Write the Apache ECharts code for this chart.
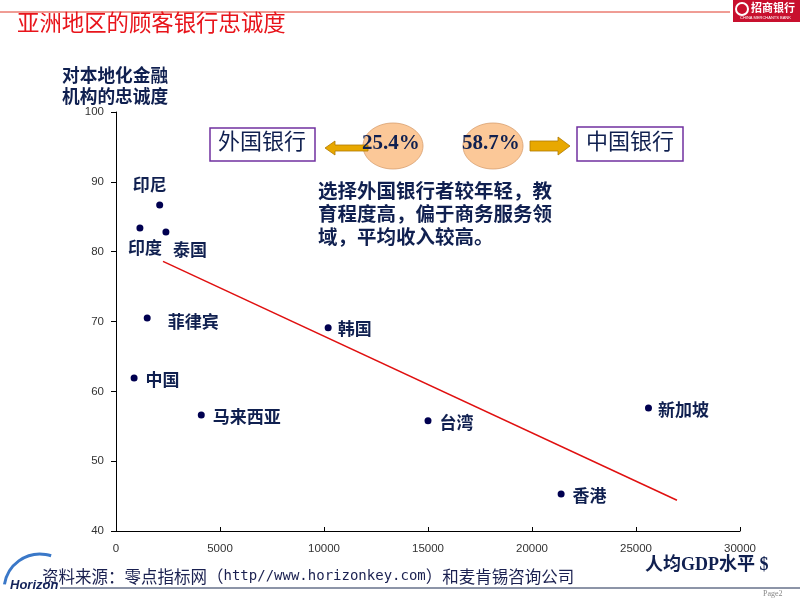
<!DOCTYPE html>
<html><head><meta charset="utf-8">
<script src="https://cdn.jsdelivr.net/npm/echarts@6/dist/echarts.min.js"></script>
<style>html,body{margin:0;padding:0;background:#fff}#c{width:800px;height:600px}</style>
</head><body><div id="c"></div>
<script>
// ---- data ----
var countries = ['印尼','印度','泰国','菲律宾','中国','马来西亚','韩国','台湾','香港','新加坡'];
var gdpPerCapita = [2100, 1150, 2400, 1500, 870, 4100, 10200, 15000, 21400, 25600];
var loyalty = [86.7, 83.4, 82.8, 70.5, 61.9, 56.6, 69.1, 55.8, 45.3, 57.6];
var trendX = [2260, 26970];
var trendY = [78.6, 44.4];
var xTicks = [0, 5000, 10000, 15000, 20000, 25000, 30000];
var yTicks = [40, 50, 60, 70, 80, 90, 100];
var foreignShare = '25.4%';
var domesticShare = '58.7%';

// ---- label placement (style, not data) ----
var labelPlace = {
  '印尼': {position: 'top', distance: 8, offset: [-10, 0]},
  '印度': {position: 'bottom', distance: 8, offset: [5, 0]},
  '泰国': {position: 'bottom', distance: 5, offset: [24, 0]},
  '菲律宾': {position: 'right', distance: 17, offset: [0, 4]},
  '中国': {position: 'right', distance: 8, offset: [0, 1]},
  '马来西亚': {position: 'right', distance: 8, offset: [0, 1]},
  '韩国': {position: 'right', distance: 6, offset: [0, 1]},
  '台湾': {position: 'right', distance: 8, offset: [0, 2]},
  '香港': {position: 'right', distance: 8, offset: [0, 2]},
  '新加坡': {position: 'right', distance: 6, offset: [0, 1]}
};

var navy = '#102050';
var cjk = '"Noto Sans CJK SC", "Noto Sans", sans-serif';
var tickFont = '"Liberation Sans", Arial, sans-serif';

var scatterData = countries.map(function (n, i) {
  var lp = labelPlace[n];
  return {
    name: n,
    value: [gdpPerCapita[i], loyalty[i]],
    label: {show: true, formatter: n, position: lp.position, distance: lp.distance, offset: lp.offset}
  };
});

var chart = echarts.init(document.getElementById('c'));
chart.setOption({
  backgroundColor: '#fff',
  animation: false,
  grid: {left: 116, right: 60, top: 112, bottom: 69, containLabel: false},
  xAxis: {
    type: 'value', min: xTicks[0], max: xTicks[xTicks.length - 1], interval: 5000,
    axisLine: {lineStyle: {color: '#000', width: 1}},
    axisTick: {inside: true, length: 4, lineStyle: {color: '#000'}},
    axisLabel: {color: '#333', fontSize: 11.5, fontFamily: tickFont, margin: 12, formatter: function (v) { return String(v); }},
    splitLine: {show: false}
  },
  yAxis: {
    type: 'value', min: yTicks[0], max: yTicks[yTicks.length - 1], interval: 10,
    axisLine: {show: true, lineStyle: {color: '#000', width: 1}},
    axisTick: {show: true, length: 5, lineStyle: {color: '#000'}},
    axisLabel: {color: '#333', fontSize: 11.5, fontFamily: tickFont, margin: 12, formatter: function (v) { return String(v); }},
    splitLine: {show: false}
  },
  series: [
    {
      type: 'line', data: trendX.map(function (x, i) { return [x, trendY[i]]; }),
      symbol: 'none', lineStyle: {color: '#e01010', width: 1.5}, z: 2, silent: true
    },
    {
      type: 'scatter', data: scatterData, symbol: 'circle', symbolSize: 7,
      itemStyle: {color: '#000050', opacity: 1},
      label: {color: navy, fontSize: 17, fontWeight: 'bold', fontFamily: cjk},
      z: 3
    }
  ],
  graphic: [
    // top red rule and logo
    {type: 'line', shape: {x1: 0, y1: 12, x2: 730, y2: 12}, style: {stroke: '#e03a2a', lineWidth: 1}},
    {type: 'rect', shape: {x: 733, y: 0, width: 67, height: 22}, style: {fill: '#c8102e'}},
    {type: 'circle', shape: {cx: 742, cy: 9, r: 6}, style: {fill: 'none', stroke: '#fff', lineWidth: 2}},
    {type: 'text', left: 751, top: 2, style: {text: '招商银行', fill: '#fff', font: 'bold 11px ' + cjk}},
    {type: 'text', left: 740, top: 16, style: {text: 'CHINA MERCHANTS BANK', fill: '#fff', font: '4px sans-serif'}},
    // title
    {type: 'text', left: 17, top: 11, style: {text: '亚洲地区的顾客银行忠诚度', fill: '#e8141b', font: '22.4px ' + cjk}},
    // y axis name
    {type: 'text', left: 62, top: 65, style: {text: '对本地化金融\n机构的忠诚度', fill: navy, font: 'bold 17.7px ' + cjk, lineHeight: 21}},
    // boxes
    {type: 'rect', shape: {x: 210, y: 128, width: 105, height: 33}, style: {fill: '#fff', stroke: '#7030a0', lineWidth: 1.5}},
    {type: 'text', left: 218, top: 130, style: {text: '外国银行', fill: navy, font: '22px ' + cjk}},
    {type: 'rect', shape: {x: 577, y: 127, width: 106, height: 34}, style: {fill: '#fff', stroke: '#7030a0', lineWidth: 1.5}},
    {type: 'text', left: 586, top: 130, style: {text: '中国银行', fill: navy, font: '22px ' + cjk}},
    // ellipses
    {type: 'ellipse', shape: {cx: 393, cy: 146, rx: 30, ry: 23}, style: {fill: '#fbc898', stroke: '#d8a070', lineWidth: 0.8}, z: 1},
    {type: 'ellipse', shape: {cx: 493, cy: 146, rx: 30, ry: 23}, style: {fill: '#fbc898', stroke: '#d8a070', lineWidth: 0.8}, z: 1},
    // arrows
    {type: 'polygon', shape: {points: [[325, 148], [335, 141], [335, 145], [368, 145], [368, 151], [335, 151], [335, 155]]}, style: {fill: '#e8a800', stroke: '#b07800', lineWidth: 0.8}, z: 2},
    {type: 'polygon', shape: {points: [[530, 141], [558, 141], [558, 137], [570, 146], [558, 155], [558, 151], [530, 151]]}, style: {fill: '#e8a800', stroke: '#b07800', lineWidth: 0.8}, z: 2},
    {type: 'text', left: 362, top: 133, style: {text: foreignShare, fill: navy, font: 'bold 21px "Liberation Serif", "Times New Roman", serif'}, z: 3},
    {type: 'text', left: 462, top: 133, style: {text: domesticShare, fill: navy, font: 'bold 21px "Liberation Serif", "Times New Roman", serif'}, z: 3},
    // note
    {type: 'text', left: 318, top: 179, style: {text: '选择外国银行者较年轻，教\n育程度高，偏于商务服务领\n域，平均收入较高。', fill: navy, font: 'bold 19.5px ' + cjk, lineHeight: 23}},
    // x axis name
    {type: 'text', left: 645, top: 556, style: {text: '人均GDP水平 $', fill: navy, font: 'bold 18px "Liberation Serif", ' + cjk}},
    // source
    {type: 'text', left: 42, top: 568, style: {
      text: '{c|资料来源：零点指标网（}{m|http//www.horizonkey.com}{c|）和麦肯锡咨询公司}',
      rich: {
        c: {fill: '#1a2050', font: '16.5px ' + cjk},
        m: {fill: '#1a2050', font: '14px "DejaVu Sans Mono", "Liberation Mono", monospace'}
      }
    }},
    // bottom rule
    {type: 'line', shape: {x1: 60, y1: 588, x2: 800, y2: 588}, style: {stroke: '#1a2a50', lineWidth: 1}},
    {type: 'text', left: 763, top: 590, style: {text: 'Page2', fill: '#888', font: '8px "Liberation Serif", serif'}},
    // Horizon logo
    {type: 'arc', shape: {cx: 40, cy: 590, r: 36, startAngle: Math.PI * 1.05, endAngle: Math.PI * 1.6}, style: {stroke: '#3a78c8', lineWidth: 3, fill: 'none'}},
    {type: 'text', left: 10, top: 579, style: {text: 'Horizon', fill: '#14235a', font: 'italic bold 13px "Liberation Sans", sans-serif'}}
  ]
});
</script></body></html>
